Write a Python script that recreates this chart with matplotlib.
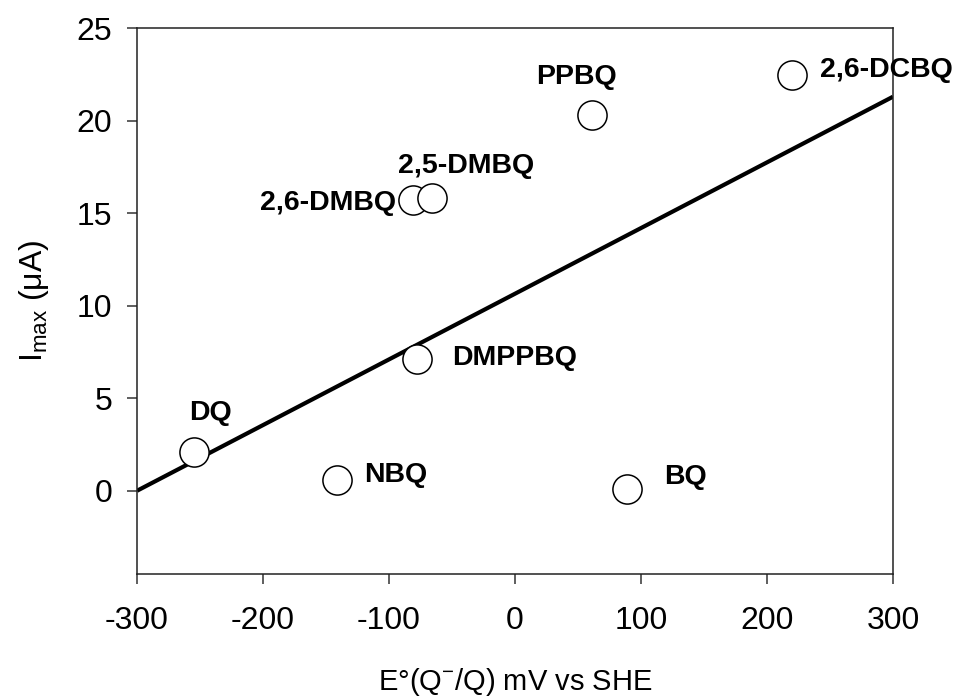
import matplotlib
matplotlib.use("Agg")
import matplotlib.pyplot as plt

plt.rcParams['font.family'] = ['Liberation Sans', 'DejaVu Sans']
plt.rcParams['mathtext.fontset'] = 'custom'
plt.rcParams['mathtext.rm'] = 'Liberation Sans'
plt.rcParams['mathtext.it'] = 'Liberation Sans:italic'
plt.rcParams['mathtext.bf'] = 'Liberation Sans:bold'
plt.rcParams['axes.unicode_minus'] = False

# Data
names = ["DQ", "NBQ", "DMPPBQ", "2,6-DMBQ", "2,5-DMBQ", "PPBQ", "BQ", "2,6-DCBQ"]
e_mv = [-255, -141, -78, -81, -66, 61, 89, 220]
i_max = [2.1, 0.6, 7.1, 15.7, 15.8, 20.3, 0.1, 22.5]
trend_x = [-300, 300]
trend_y = [0.0, 21.3]
x_ticks = [-300, -200, -100, 0, 100, 200, 300]
y_ticks = [0, 5, 10, 15, 20, 25]

# Label placements (data coords) and alignment
label_x = [-259, -120, -50, -94, -93, 17, 118, 242]
label_y = [3.85, 0.49, 6.78, 15.19, 17.18, 21.97, 0.36, 22.34]
label_ha = ["left", "left", "left", "right", "left", "left", "left", "left"]

fig = plt.figure(figsize=(9.61, 7.0), dpi=100)
ax = fig.add_axes([0.1426, 0.18, 0.9292 - 0.1426, 0.9596 - 0.18])

ax.plot(trend_x, trend_y, color="black", lw=3.0, solid_capstyle="butt", zorder=2)
ax.plot(e_mv, i_max, linestyle="none", marker="o", markersize=21,
        markerfacecolor="white", markeredgecolor="black", markeredgewidth=1.1,
        zorder=3)

for n, lx, ly, ha in zip(names, label_x, label_y, label_ha):
    ax.text(lx, ly, n, ha=ha, va="baseline", fontsize=20.5, fontweight="bold",
            zorder=4)

ax.set_xlim(-300, 300)
ax.set_ylim(-4.5, 25)
ax.set_xticks(x_ticks)
ax.set_yticks(y_ticks)
ax.tick_params(axis="both", direction="out", length=7, width=1.1,
               labelsize=23, color="#333333")
ax.tick_params(axis="x", pad=16)
ax.tick_params(axis="y", pad=11)
for sp in ax.spines.values():
    sp.set_linewidth(1.1)
    sp.set_color("#222222")

ax.set_xlabel(r"E°(Q$^{\mathregular{-}}$/Q) mV vs SHE", fontsize=21, labelpad=22)
ax.set_ylabel(r"I$_{\mathregular{max}}$ (μA)", fontsize=23, labelpad=18)

fig.savefig("out.png", dpi=100)
